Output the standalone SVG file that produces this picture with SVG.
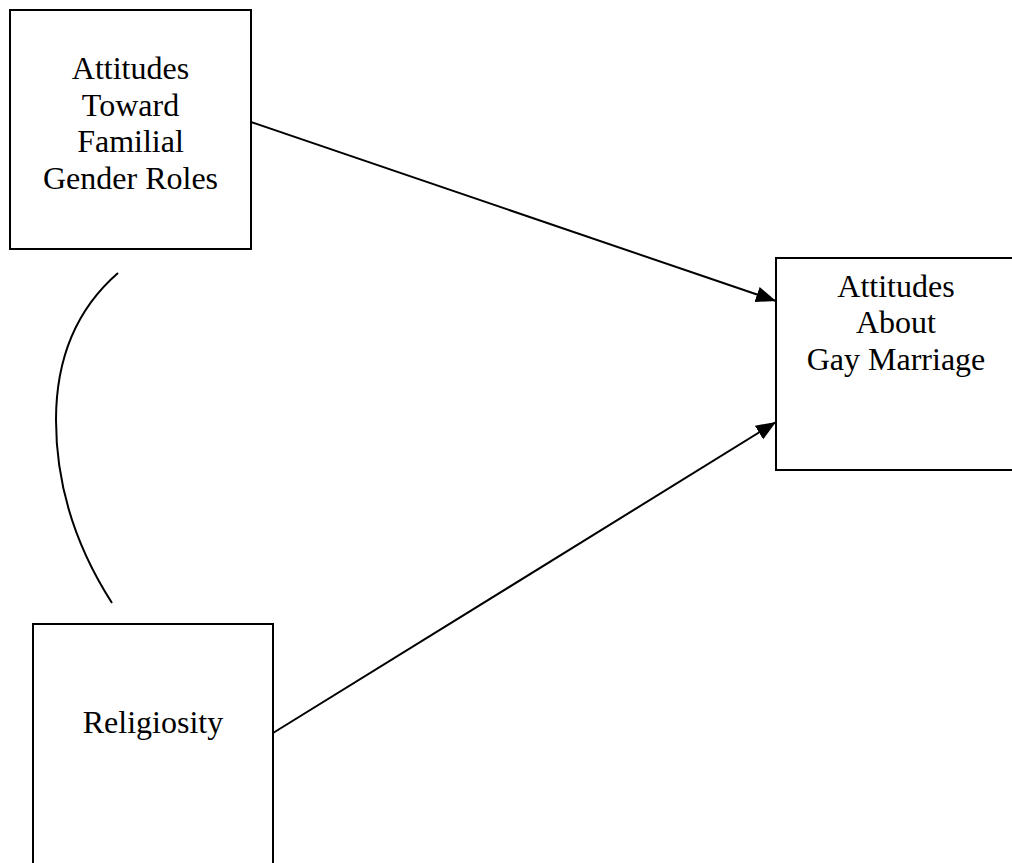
<svg xmlns="http://www.w3.org/2000/svg" width="1012" height="863" viewBox="0 0 1012 863">
<style>
.box{fill:#fff;stroke:#000;stroke-width:2}
.lbl{font-family:"Liberation Serif","Times New Roman",serif;font-size:32px;fill:#000;text-anchor:middle}
.conn{fill:none;stroke:#000;stroke-width:2}
</style>
<defs>
<marker id="ahb" viewBox="0 0 20 16" refX="20" refY="8" markerWidth="20" markerHeight="16" markerUnits="userSpaceOnUse" orient="auto">
<path d="M0,0 L20,8 L0,16 z" fill="#000"/>
</marker>
</defs>
<rect width="1012" height="863" fill="#fff"/>
<g id="connectors">
<line class="conn" x1="251" y1="122" x2="776" y2="301" marker-end="url(#ahb)"/>
<line class="conn" x1="273" y1="733" x2="776" y2="422" marker-end="url(#ahb)"/>
<path class="conn" d="M118,273 C72,313 56,365 56,420 C56,490 78,550 112,603"/>
</g>
<g id="node-gender">
<rect class="box" x="10" y="10" width="241" height="239"/>
<text class="lbl" x="130.5" y="79">Attitudes</text>
<text class="lbl" x="130.5" y="116">Toward</text>
<text class="lbl" x="130.5" y="152">Familial</text>
<text class="lbl" x="130.5" y="189">Gender Roles</text>
</g>
<g id="node-marriage">
<rect class="box" x="776" y="258" width="240" height="212"/>
<text class="lbl" x="896" y="297">Attitudes</text>
<text class="lbl" x="896" y="333">About</text>
<text class="lbl" x="896" y="370">Gay Marriage</text>
</g>
<g id="node-religiosity">
<rect class="box" x="33" y="624" width="240" height="260"/>
<text class="lbl" x="153" y="733">Religiosity</text>
</g>
</svg>
